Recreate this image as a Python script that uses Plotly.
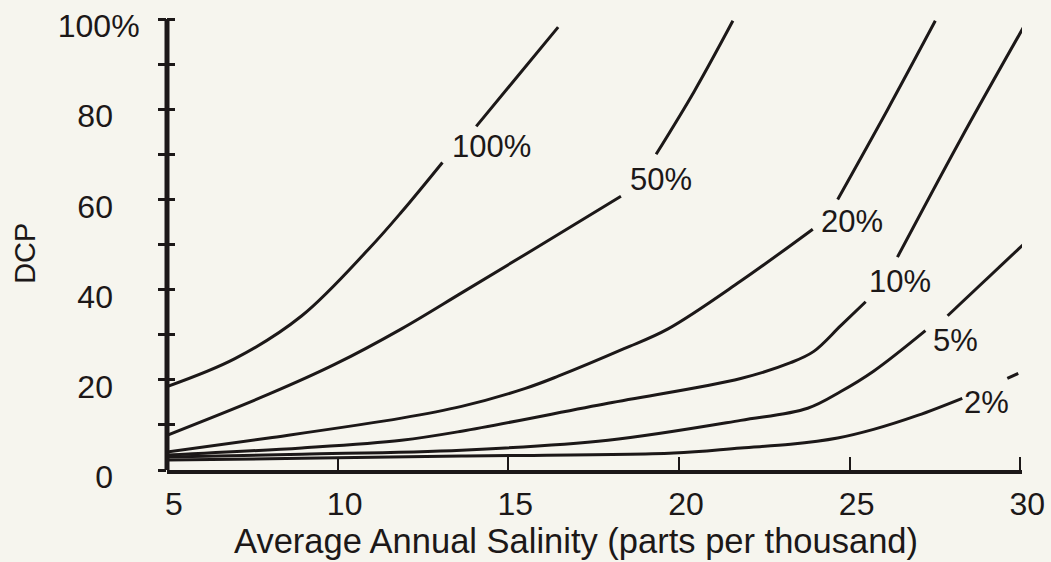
import plotly.graph_objects as go

# Average annual salinity (ppt) vs DCP, one curve per percentage level.
# None marks where a curve is broken for its label.
sal_100 = [5.00, 6.99, 8.95, 10.91, 11.87, 13.07, None, 14.06, 15.26, 16.46]
dcp_100 = [18.5, 24.7, 34.2, 49.0, 57.2, 68.2, None, 76.2, 87.2, 98.2]

sal_50 = [5.00, 7.98, 9.91, 11.87, 13.68, 15.76, 18.30, None, 19.33, 20.45, 21.58]
dcp_50 = [7.7, 16.8, 23.4, 31.3, 39.5, 49.0, 60.7, None, 70.0, 84.0, 99.6]

sal_20 = [5.00, 7.98, 11.87, 13.63, 15.50, 16.46, 18.39, 19.68, 21.81, 23.92, None, 24.65, 26.11, 27.51]
dcp_20 = [4.0, 7.1, 11.5, 14.1, 18.1, 20.8, 26.9, 31.3, 41.9, 53.4, None, 60.0, 79.9, 99.6]

sal_10 = [5.00, 8.95, 11.87, 13.63, 17.92, 21.81, 23.27, 23.95, 24.74, 25.47, None, 26.40, 28.25, 30.20]
dcp_10 = [3.3, 4.9, 6.6, 8.6, 14.8, 20.3, 23.8, 26.3, 32.0, 37.3, None, 47.2, 73.3, 99.6]

sal_5 = [5.00, 8.95, 13.63, 17.92, 21.81, 23.77, 24.74, 25.70, 27.22, None, 27.87, 30.20]
dcp_5 = [2.9, 3.5, 4.4, 6.6, 11.0, 13.7, 17.4, 21.9, 30.9, None, 34.2, 50.8]

sal_2 = [5.00, 8.95, 13.63, 19.85, 21.81, 23.27, 24.65, 25.70, 26.99, 28.30, None, 29.62, 29.94]
dcp_2 = [2.2, 2.6, 3.1, 3.75, 4.9, 5.7, 7.1, 9.0, 12.1, 15.9, None, 20.3, 21.4]

curve_labels = ["100%", "50%", "20%", "10%", "5%", "2%"]
label_sal = [14.50, 19.47, 25.06, 26.49, 28.10, 29.00]
label_dcp = [71.7, 64.5, 55.2, 41.9, 28.7, 15.0]

x_tick_vals = [5, 10, 15, 20, 25, 30]
x_tick_text = ["5", "10", "15", "20", "25", "30"]
y_tick_vals = [0, 10, 20, 30, 40, 50, 60, 70, 80, 90, 100]
y_tick_text = ["0", "", "20", "", "40", "", "60", "", "80", "", "100%"]

INK = "#1c1818"
PAPER = "#f6f5ee"
FONT = "Liberation Sans, Arial, Helvetica, sans-serif"

pad = "\u00a0\u00a0\u00a0"  # keeps the digits aligned with the "100" of "100%"
y_tick_text_padded = [t + pad if t and not t.endswith("%") else t for t in y_tick_text]

series = [
    (sal_100, dcp_100), (sal_50, dcp_50), (sal_20, dcp_20),
    (sal_10, dcp_10), (sal_5, dcp_5), (sal_2, dcp_2),
]

fig = go.Figure()
for name, (xs, ys) in zip(curve_labels, series):
    fig.add_trace(go.Scatter(
        x=xs, y=ys, mode="lines", name=name,
        line=dict(color=INK, width=3, shape="spline", smoothing=1.0),
        connectgaps=False, showlegend=False, hoverinfo="skip",
    ))

# carrier for the second y axis that draws the inner half of the ticks
fig.add_trace(go.Scatter(x=[5], y=[0], mode="markers", yaxis="y2",
                         marker=dict(opacity=0), showlegend=False, hoverinfo="skip"))

for text, xv, yv in zip(curve_labels, label_sal, label_dcp):
    fig.add_annotation(x=xv, y=yv, text=text, showarrow=False,
                       font=dict(family=FONT, size=31, color=INK),
                       xanchor="center", yanchor="middle")

# axis titles
fig.add_annotation(x=-0.166, y=0.47, xref="paper", yref="paper", text="DCP",
                   textangle=-90, showarrow=False,
                   font=dict(family=FONT, size=29, color=INK),
                   xanchor="center", yanchor="middle")
fig.add_annotation(x=0.478, y=-0.155, xref="paper", yref="paper",
                   text="Average Annual Salinity (parts per thousand)",
                   showarrow=False, font=dict(family=FONT, size=34.5, color=INK),
                   xanchor="center", yanchor="middle")

X_RANGE = [5, 30.05]
Y_RANGE = [0, 102]

fig.update_layout(
    width=1051, height=562,
    margin=dict(l=167, r=29, t=10, b=92, autoexpand=False),
    paper_bgcolor=PAPER, plot_bgcolor=PAPER,
    font=dict(family=FONT, color=INK),
    xaxis=dict(
        range=X_RANGE, showgrid=False, zeroline=False,
        showline=True, linewidth=4, linecolor=INK,
        ticks="inside", ticklen=13, tickwidth=2, tickcolor=INK,
        tickvals=x_tick_vals, ticktext=x_tick_text,
        tickfont=dict(family=FONT, size=32, color=INK),
        ticklabelstandoff=3, ticklabelshift=7, ticklabeloverflow="allow",
    ),
    yaxis=dict(
        range=Y_RANGE, showgrid=False, zeroline=False,
        showline=False,
        ticks="outside", ticklen=8, tickwidth=3, tickcolor=INK,
        tickvals=y_tick_vals, ticktext=y_tick_text_padded,
        tickfont=dict(family=FONT, size=32, color=INK),
        ticklabelshift=7, ticklabelstandoff=12,
        ticklabeloverflow="allow",
    ),
    yaxis2=dict(
        range=Y_RANGE, overlaying="y", side="left", anchor="x",
        showgrid=False, zeroline=False, showline=False,
        ticks="inside", ticklen=8, tickwidth=3, tickcolor=INK,
        tickvals=y_tick_vals[1:], showticklabels=False,
    ),
    # vertical axis line runs from 0 to 100 only
    shapes=[dict(type="line", xref="paper", yref="y", x0=0, x1=0,
                 y0=Y_RANGE[0], y1=100, line=dict(color=INK, width=5),
                 layer="above")],
)

fig.write_html("out.html")
